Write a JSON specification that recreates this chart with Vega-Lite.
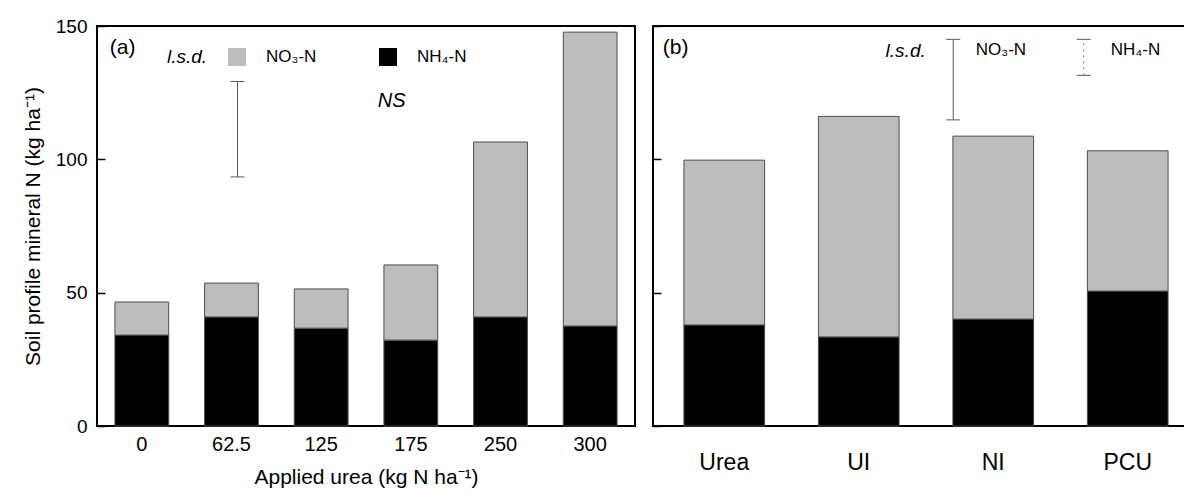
{
  "$schema": "https://vega.github.io/schema/vega-lite/v6.json",
  "background": "white",
  "padding": {"left": 21, "top": 16, "right": 0, "bottom": 5},
  "bounds": "flush",
  "spacing": 18,
  "config": {
    "font": "Liberation Sans",
    "view": {"stroke": "black", "strokeWidth": 2},
    "axis": {"grid": false, "domain": false, "labelColor": "black", "titleColor": "black", "titleFontWeight": "normal", "tickColor": "black", "labelFont": "Liberation Sans", "titleFont": "Liberation Sans"},
    "text": {"font": "Liberation Sans", "color": "black"}
  },
  "datasets": {
    "a": [
      {"rate": "0", "form": "NH₄-N", "value": 34.1},
      {"rate": "0", "form": "NO₃-N", "value": 12.4},
      {"rate": "62.5", "form": "NH₄-N", "value": 40.9},
      {"rate": "62.5", "form": "NO₃-N", "value": 12.7},
      {"rate": "125", "form": "NH₄-N", "value": 36.7},
      {"rate": "125", "form": "NO₃-N", "value": 14.7},
      {"rate": "175", "form": "NH₄-N", "value": 32.2},
      {"rate": "175", "form": "NO₃-N", "value": 28.2},
      {"rate": "250", "form": "NH₄-N", "value": 40.9},
      {"rate": "250", "form": "NO₃-N", "value": 65.6},
      {"rate": "300", "form": "NH₄-N", "value": 37.5},
      {"rate": "300", "form": "NO₃-N", "value": 110.2}
    ],
    "b": [
      {"treatment": "Urea", "form": "NH₄-N", "value": 37.9},
      {"treatment": "Urea", "form": "NO₃-N", "value": 61.8},
      {"treatment": "UI", "form": "NH₄-N", "value": 33.4},
      {"treatment": "UI", "form": "NO₃-N", "value": 82.7},
      {"treatment": "NI", "form": "NH₄-N", "value": 40.1},
      {"treatment": "NI", "form": "NO₃-N", "value": 68.6},
      {"treatment": "PCU", "form": "NH₄-N", "value": 50.6},
      {"treatment": "PCU", "form": "NO₃-N", "value": 52.6}
    ],
    "lsd_a_no3": [{"lo": 93.4, "hi": 129.2}],
    "lsd_b_no3": [{"lo": 114.8, "hi": 145.0}],
    "lsd_b_nh4": [{"lo": 131.5, "hi": 145.0}]
  },
  "hconcat": [
    {
      "width": 538,
      "height": 400,
      "layer": [
        {
          "data": {"name": "a"},
          "mark": {"type": "bar", "stroke": "#4d4d4d", "strokeWidth": 1},
          "encoding": {
            "x": {
              "field": "rate", "type": "nominal",
              "sort": ["0", "62.5", "125", "175", "250", "300"],
              "scale": {"paddingInner": 0.4, "paddingOuter": 0.2},
              "axis": {"title": "Applied urea (kg N ha⁻¹)", "labelAngle": 0, "ticks": false, "labelFontSize": 20, "labelPadding": 8, "titleFontSize": 21, "titlePadding": 12}
            },
            "y": {
              "field": "value", "type": "quantitative", "stack": "zero",
              "scale": {"domain": [0, 150], "nice": false},
              "axis": {"title": "Soil profile mineral N (kg ha⁻¹)", "values": [0, 50, 100, 150], "tickSize": -8, "tickWidth": 1.5, "labelPadding": 18, "labelFontSize": 19, "titleFontSize": 21, "titlePadding": 12}
            },
            "color": {
              "field": "form", "type": "nominal",
              "scale": {"domain": ["NO₃-N", "NH₄-N"], "range": ["#bdbdbd", "#000000"]},
              "legend": {
                "orient": "none", "legendX": 70, "legendY": 22, "direction": "horizontal",
                "title": "l.s.d.", "titleOrient": "left", "titleFontStyle": "italic", "titleFontWeight": "normal",
                "titleFontSize": 19, "titleColor": "black", "titlePadding": 20, "titleBaseline": "middle",
                "symbolType": "square", "symbolSize": 324, "symbolStrokeWidth": 0, "symbolOpacity": 1,
                "labelFontSize": 17, "labelColor": "black", "labelOffset": 20, "columnPadding": 62, "padding": 0
              }
            },
            "order": {"field": "form", "sort": "ascending"}
          }
        },
        {
          "data": {"name": "lsd_a_no3"},
          "mark": {"type": "rule", "xOffset": 6, "color": "#555555", "strokeWidth": 1},
          "encoding": {
            "x": {"datum": "62.5", "type": "nominal"},
            "y": {"field": "lo", "type": "quantitative"},
            "y2": {"field": "hi"}
          }
        },
        {
          "data": {"name": "lsd_a_no3"},
          "transform": [{"fold": ["lo", "hi"], "as": ["end", "v"]}],
          "mark": {"type": "tick", "xOffset": 6, "color": "#555555", "thickness": 1, "size": 14, "opacity": 1},
          "encoding": {
            "x": {"datum": "62.5", "type": "nominal"},
            "y": {"field": "v", "type": "quantitative"}
          }
        },
        {
          "data": {"values": [{"label": "(a)"}]},
          "mark": {"type": "text", "align": "left", "baseline": "middle", "fontSize": 21, "xOffset": -32},
          "encoding": {
            "x": {"datum": "0", "type": "nominal"},
            "y": {"datum": 141.7, "type": "quantitative"},
            "text": {"field": "label"}
          }
        },
        {
          "data": {"values": [{"label": "NS"}]},
          "mark": {"type": "text", "align": "left", "baseline": "middle", "fontSize": 20, "fontStyle": "italic", "xOffset": -33},
          "encoding": {
            "x": {"datum": "175", "type": "nominal"},
            "y": {"datum": 121.9, "type": "quantitative"},
            "text": {"field": "label"}
          }
        }
      ]
    },
    {
      "width": 546,
      "height": 400,
      "layer": [
        {
          "data": {"name": "b"},
          "mark": {"type": "bar", "stroke": "#4d4d4d", "strokeWidth": 1},
          "encoding": {
            "x": {
              "field": "treatment", "type": "nominal",
              "sort": ["Urea", "UI", "NI", "PCU"],
              "scale": {"paddingInner": 0.4, "paddingOuter": 0.23},
              "axis": {"title": null, "labelAngle": 0, "ticks": false, "labelFontSize": 23, "labelPadding": 25}
            },
            "y": {
              "field": "value", "type": "quantitative", "stack": "zero",
              "scale": {"domain": [0, 150], "nice": false},
              "axis": {"title": null, "labels": false, "values": [0, 50, 100, 150], "tickSize": -8, "tickWidth": 1.5}
            },
            "color": {
              "field": "form", "type": "nominal",
              "scale": {"domain": ["NO₃-N", "NH₄-N"], "range": ["#bdbdbd", "#000000"]},
              "legend": null
            },
            "order": {"field": "form", "sort": "ascending"}
          }
        },
        {
          "data": {"name": "lsd_b_no3"},
          "mark": {"type": "rule", "xOffset": -40, "color": "#555555", "strokeWidth": 1},
          "encoding": {
            "x": {"datum": "NI", "type": "nominal"},
            "y": {"field": "lo", "type": "quantitative"},
            "y2": {"field": "hi"}
          }
        },
        {
          "data": {"name": "lsd_b_no3"},
          "transform": [{"fold": ["lo", "hi"], "as": ["end", "v"]}],
          "mark": {"type": "tick", "xOffset": -40, "color": "#555555", "thickness": 1, "size": 14, "opacity": 1},
          "encoding": {
            "x": {"datum": "NI", "type": "nominal"},
            "y": {"field": "v", "type": "quantitative"}
          }
        },
        {
          "data": {"name": "lsd_b_nh4"},
          "mark": {"type": "rule", "xOffset": -44, "color": "#777777", "strokeWidth": 1, "strokeDash": [2, 4]},
          "encoding": {
            "x": {"datum": "PCU", "type": "nominal"},
            "y": {"field": "lo", "type": "quantitative"},
            "y2": {"field": "hi"}
          }
        },
        {
          "data": {"name": "lsd_b_nh4"},
          "transform": [{"fold": ["lo", "hi"], "as": ["end", "v"]}],
          "mark": {"type": "tick", "xOffset": -44, "color": "#555555", "thickness": 1, "size": 14, "opacity": 1},
          "encoding": {
            "x": {"datum": "PCU", "type": "nominal"},
            "y": {"field": "v", "type": "quantitative"}
          }
        },
        {
          "data": {"values": [{"label": "(b)"}]},
          "mark": {"type": "text", "align": "left", "baseline": "middle", "fontSize": 21, "xOffset": -61.5},
          "encoding": {
            "x": {"datum": "Urea", "type": "nominal"},
            "y": {"datum": 141.7, "type": "quantitative"},
            "text": {"field": "label"}
          }
        },
        {
          "data": {"values": [{"label": "l.s.d."}]},
          "mark": {"type": "text", "align": "right", "baseline": "middle", "fontSize": 19, "fontStyle": "italic", "xOffset": -67.5},
          "encoding": {
            "x": {"datum": "NI", "type": "nominal"},
            "y": {"datum": 140.8, "type": "quantitative"},
            "text": {"field": "label"}
          }
        },
        {
          "data": {"values": [{"label": "NO₃-N"}]},
          "mark": {"type": "text", "align": "left", "baseline": "middle", "fontSize": 17, "xOffset": -17.5},
          "encoding": {
            "x": {"datum": "NI", "type": "nominal"},
            "y": {"datum": 141, "type": "quantitative"},
            "text": {"field": "label"}
          }
        },
        {
          "data": {"values": [{"label": "NH₄-N"}]},
          "mark": {"type": "text", "align": "left", "baseline": "middle", "fontSize": 17, "xOffset": -17},
          "encoding": {
            "x": {"datum": "PCU", "type": "nominal"},
            "y": {"datum": 141, "type": "quantitative"},
            "text": {"field": "label"}
          }
        }
      ]
    }
  ],
  "resolve": {"scale": {"x": "independent", "y": "independent", "color": "shared"}, "legend": {"color": "independent"}}
}
